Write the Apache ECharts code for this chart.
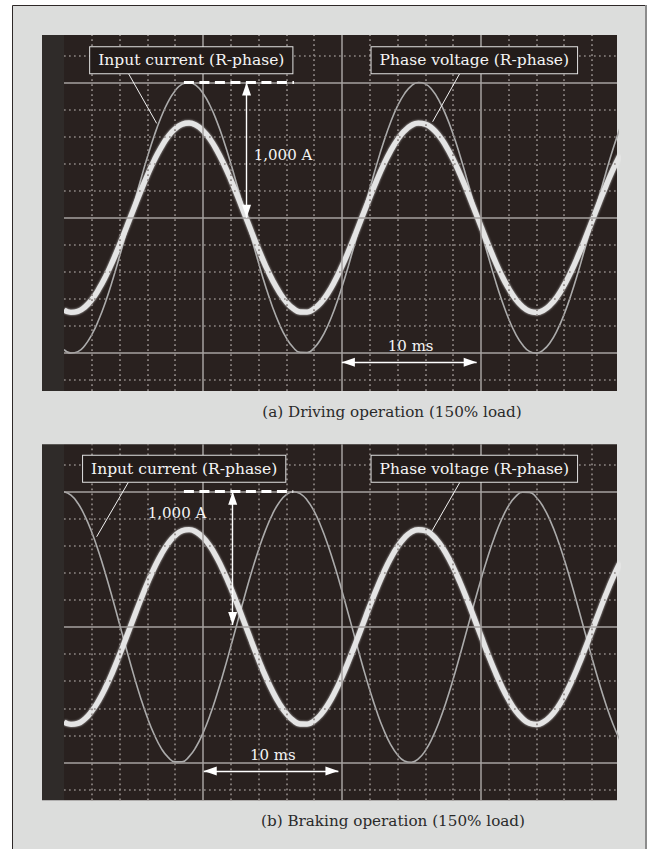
<!DOCTYPE html>
<html>
<head>
<meta charset="utf-8">
<script src="https://cdn.jsdelivr.net/npm/echarts@6/dist/echarts.min.js"></script>
<style>
html,body{margin:0;padding:0;background:#ffffff;}
#chart{width:652px;height:849px;}
</style>
</head>
<body>
<div id="chart"></div>
<script>
// ---- data (time in ms, values in A / display units) ----
const timeMs = [
  0,0.5,1,1.5,2,2.5,3,3.5,4,4.5,
  5,5.5,6,6.5,7,7.5,8,8.5,9,9.5,
  10,10.5,11,11.5,12,12.5,13,13.5,14,14.5,
  15,15.5,16,16.5,17,17.5,18,18.5,19,19.5,
  20,20.5,21,21.5,22,22.5,23,23.5,24,24.5,
  25,25.5,26,26.5,27,27.5,28,28.5,29,29.5,
  30,30.5,31,31.5,32,32.5,33,33.5,34,34.5,
  35,35.5,36,36.5,37,37.5,38,38.5,39,39.5,
  40];
// (a) driving operation
const drivingCurrent = [
  -974,-999,-989,-943,-864,-754,-618,-460,-285,-100,
  88,273,448,608,746,858,939,987,1000,977,
  920,831,712,567,403,224,38,-150,-333,-504,
  -657,-786,-888,-959,-995,-996,-962,-894,-794,-666,
  -514,-345,-163,25,212,391,557,703,824,915,
  975,999,989,943,864,754,618,460,285,100,
  -88,-273,-448,-608,-746,-858,-939,-987,-1000,-977,
  -920,-831,-712,-567,-403,-224,-38,150,333,504,
  657];
const drivingVoltage = [
  -682,-699,-692,-660,-605,-528,-433,-322,-200,-70,
  61,191,314,426,522,601,657,691,700,684,
  644,582,498,397,282,157,26,-105,-233,-353,
  -460,-550,-622,-671,-696,-697,-673,-626,-556,-466,
  -360,-242,-114,18,148,274,390,492,576,641,
  682,699,692,660,605,528,433,322,200,70,
  -61,-191,-314,-426,-522,-601,-657,-691,-700,-684,
  -644,-582,-498,-397,-282,-157,-26,105,233,353,
  460];
// (b) braking operation
const brakingCurrent = [
  999,974,914,821,700,554,388,208,21,-166,
  -348,-518,-669,-796,-896,-963,-996,-995,-957,-886,
  -784,-654,-500,-329,-146,42,228,406,570,714,
  833,922,978,1000,986,937,856,743,605,445,
  269,84,-104,-289,-463,-621,-757,-866,-944,-989,
  -999,-974,-914,-821,-700,-554,-388,-208,-21,166,
  348,518,669,796,896,963,996,995,957,886,
  784,654,500,329,146,-42,-228,-406,-570,-714,
  -833];
const brakingVoltage = [
  -702,-719,-712,-679,-622,-543,-445,-331,-205,-72,
  63,197,323,438,537,618,676,711,720,703,
  662,598,512,408,290,161,27,-108,-240,-363,
  -473,-566,-639,-690,-716,-717,-693,-644,-572,-480,
  -370,-248,-117,18,153,282,401,506,593,659,
  702,719,712,679,622,543,445,331,205,72,
  -63,-197,-323,-438,-537,-618,-676,-711,-720,-703,
  -662,-598,-512,-408,-290,-161,-27,108,240,363,
  473];
// oscilloscope graticule (ms / A)
const majorX = [10,20,30];
const minorX = [2,4,6,8,12,14,16,18,22,24,26,28,32,34,36,38];
const majorY = [-1000,0,1000];
const minorY = [-1200,-800,-600,-400,-200,200,400,600,800,1200];
// texts
const captions = ['(a) Driving operation (150% load)', '(b) Braking operation (150% load)'];
const labelCurrent = 'Input current (R-phase)';
const labelVoltage = 'Phase voltage (R-phase)';
const labelAmp = '1,000 A';
const labelTime = '10 ms';

// ---- styling / layout ----
const FONT = 'DejaVu Serif';
const panelTops = [35, 444.3];
const panelH = 356;
const gridLeft = 64, gridW = 553;
const X_MIN = 0, X_MAX = 39.8, Y_MIN = -1280, Y_MAX = 1350;

const annotations = [
  { curBox:[9.16,1163], volBox:[29.53,1163],
    curLeader:[[4.63,1067],[6.67,697]], volLeader:[[28.49,1067],[26.53,709]],
    dash:[[8.63,1000],[16.55,1000]], vArrowX:13.14, vArrowY:[1000,0],
    ampText:[13.62,463], timeText:[24.95,-946], hArrowY:-1068, hArrowX:[20.0,29.7] },
  { curBox:[8.65,1169], volBox:[29.53,1169],
    curLeader:[[4.63,1069],[2.35,667]], volLeader:[[28.49,1069],[26.45,704]],
    dash:[[8.63,1000],[16.5,1000]], vArrowX:12.14, vArrowY:[1000,15],
    ampText:[5.99,844], timeText:[15.03,-946], hArrowY:-1064, hArrowX:[10.06,19.75] }
];

const pair = (ys) => timeMs.map((t, i) => [t, ys[i]]);

const majorStyle = { color:'#a6a2a0', width:1.5, type:'solid' };
const minorStyle = { color:'#8d8684', width:1.7, type:[1.7,3.3] };

function graticule(idx){
  const d = [];
  majorX.forEach(v => d.push({ xAxis:v, lineStyle: majorStyle }));
  minorX.forEach(v => d.push({ xAxis:v, lineStyle: minorStyle }));
  majorY.forEach(v => d.push({ yAxis:v, lineStyle: majorStyle }));
  minorY.forEach(v => d.push({ yAxis:v, lineStyle: minorStyle }));
  return {
    type:'line', xAxisIndex:idx, yAxisIndex:idx, data:[], z:1, silent:true,
    markLine:{ silent:true, symbol:'none', label:{show:false}, emphasis:{disabled:true}, animation:false, data:d }
  };
}

const arrowEnd = (x, y) => ({ coord:[x,y], symbol:'triangle', symbolSize:[9,13], symbolOffset:[0,6.5] });
const plainEnd = (x, y) => ({ coord:[x,y], symbol:'none' });

function annotationSeries(idx){
  const a = annotations[idx];
  const white = { color:'#ffffff', width:1.4, type:'solid' };
  const leader = { color:'#f2f2f2', width:1, type:'solid' };
  const boxLabel = (txt) => ({
    show:true, position:'inside', formatter:txt, color:'#f4f4f4',
    fontFamily:FONT, fontSize:15.5, lineHeight:18,
    backgroundColor:'#231c1a', borderColor:'#e2e2e2', borderWidth:1, padding:[4,8]
  });
  return {
    type:'line', xAxisIndex:idx, yAxisIndex:idx, data:[], z:10, silent:true,
    markLine:{
      silent:true, label:{show:false}, emphasis:{disabled:true}, animation:false,
      itemStyle:{color:'#ffffff'},
      data:[
        [ plainEnd(a.curLeader[0][0], a.curLeader[0][1]), Object.assign(plainEnd(a.curLeader[1][0], a.curLeader[1][1]), {lineStyle:leader}) ],
        [ plainEnd(a.volLeader[0][0], a.volLeader[0][1]), Object.assign(plainEnd(a.volLeader[1][0], a.volLeader[1][1]), {lineStyle:leader}) ],
        [ plainEnd(a.dash[0][0], a.dash[0][1]), Object.assign(plainEnd(a.dash[1][0], a.dash[1][1]), {lineStyle:{color:'#ffffff', width:3, type:[10,5.5]}}) ],
        [ arrowEnd(a.vArrowX, a.vArrowY[0]), Object.assign(arrowEnd(a.vArrowX, a.vArrowY[1]), {lineStyle:white}) ],
        [ arrowEnd(a.hArrowX[0], a.hArrowY), Object.assign(arrowEnd(a.hArrowX[1], a.hArrowY), {lineStyle:white}) ]
      ]
    },
    markPoint:{
      silent:true, animation:false, symbol:'circle', symbolSize:1,
      itemStyle:{color:'rgba(0,0,0,0)'},
      data:[
        { coord:a.curBox, label:boxLabel(labelCurrent) },
        { coord:a.volBox, label:boxLabel(labelVoltage) },
        { coord:a.ampText, label:{ show:true, position:'right', distance:0, formatter:labelAmp, color:'#f4f4f4', fontFamily:FONT, fontSize:15 } },
        { coord:a.timeText, label:{ show:true, position:'inside', formatter:labelTime, color:'#f4f4f4', fontFamily:FONT, fontSize:15 } }
      ]
    }
  };
}

function currentSeries(idx, ys){
  return { type:'line', xAxisIndex:idx, yAxisIndex:idx, data:pair(ys), smooth:true, symbol:'none', z:3, silent:true,
    lineStyle:{ color:'#ababab', width:1.6 } };
}
function voltageSeries(idx, ys){
  return { type:'line', xAxisIndex:idx, yAxisIndex:idx, data:pair(ys), smooth:true, symbol:'none', z:4, silent:true,
    lineStyle:{ color:'#e4e4e4', width:5.4, shadowBlur:2.5, shadowColor:'rgba(235,235,235,0.8)' } };
}

const grids = panelTops.map(t => ({ left:gridLeft, top:t, width:gridW, height:panelH, show:true, backgroundColor:'#29211f', borderWidth:0 }));
const xAxes = panelTops.map((t, i) => ({ type:'value', gridIndex:i, min:X_MIN, max:X_MAX, show:false, splitLine:{show:false} }));
const yAxes = panelTops.map((t, i) => ({ type:'value', gridIndex:i, min:Y_MIN, max:Y_MAX, show:false, splitLine:{show:false} }));

const graphics = [
  { type:'rect', z:-100, shape:{x:12.5, y:5.5, width:633, height:870}, style:{fill:'#dcdddc', stroke:'#2e2828', lineWidth:1} },
  { type:'line', z:-99, shape:{x1:646, y1:5, x2:646, y2:849}, style:{stroke:'#8c8c8c', lineWidth:2} }
];
panelTops.forEach(t => graphics.push({ type:'rect', z:50, shape:{x:42, y:t, width:gridLeft-42, height:panelH}, style:{fill:'#2f2b29'} }));
graphics.push({ type:'text', z:50, x:392, y:411.5, style:{ text:captions[0], fill:'#2a2a2a', font:'15.2px "' + FONT + '"', textAlign:'center', textVerticalAlign:'middle' } });
graphics.push({ type:'text', z:50, x:393, y:820.5, style:{ text:captions[1], fill:'#2a2a2a', font:'15.2px "' + FONT + '"', textAlign:'center', textVerticalAlign:'middle' } });

const chart = echarts.init(document.getElementById('chart'), null, { renderer:'svg' });
chart.setOption({
  animation:false,
  backgroundColor:'#ffffff',
  grid:grids,
  xAxis:xAxes,
  yAxis:yAxes,
  graphic:graphics,
  series:[
    graticule(0), graticule(1),
    currentSeries(0, drivingCurrent), voltageSeries(0, drivingVoltage),
    currentSeries(1, brakingCurrent), voltageSeries(1, brakingVoltage),
    annotationSeries(0), annotationSeries(1)
  ]
});
</script>
</body>
</html>
